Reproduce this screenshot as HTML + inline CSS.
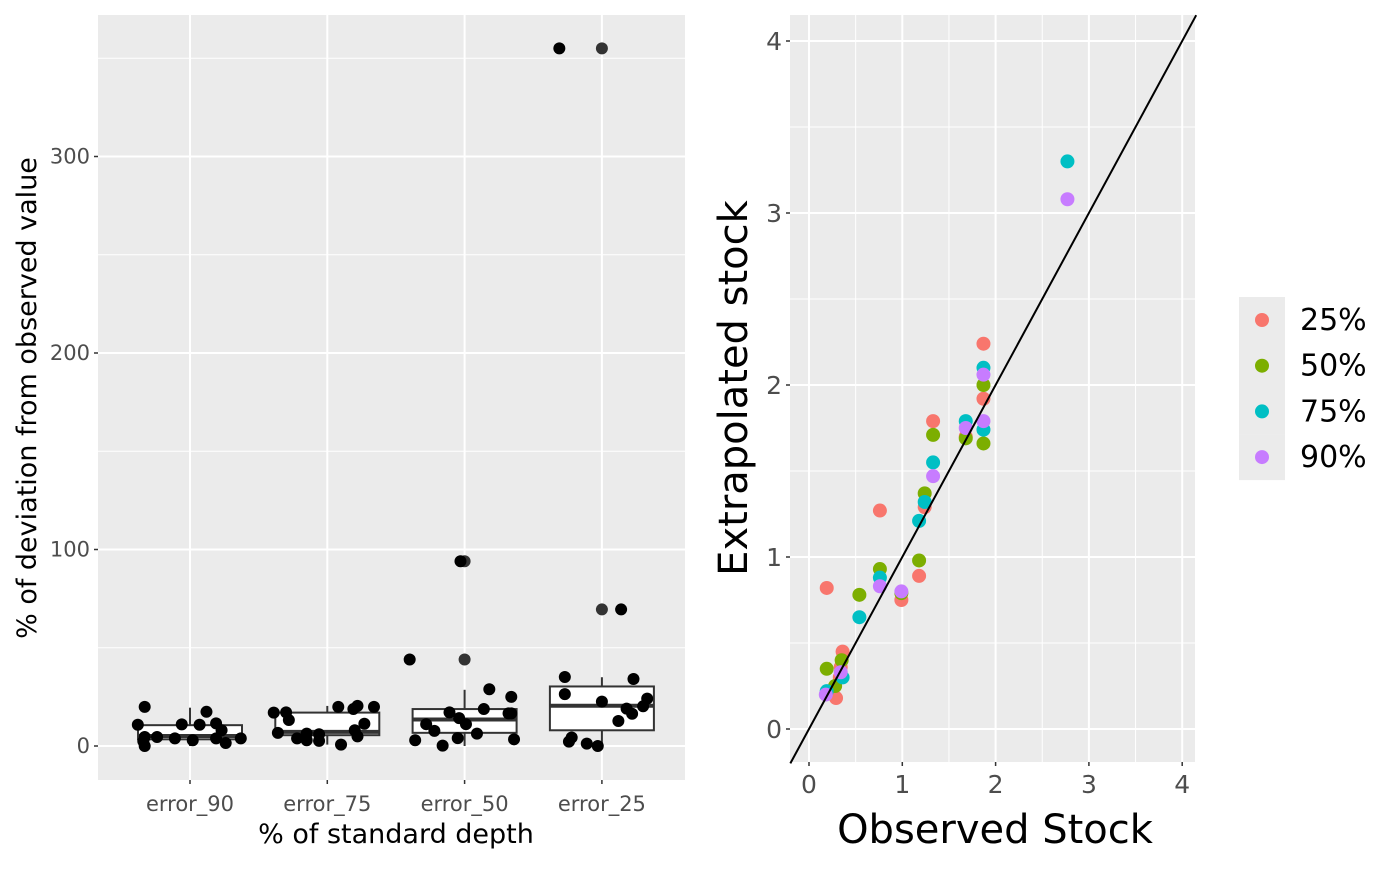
<!DOCTYPE html>
<html><head><meta charset="utf-8"><style>
body{margin:0;background:#fff;font-family:"Liberation Sans","DejaVu Sans",sans-serif}
svg text{font-family:"DejaVu Sans","Liberation Sans",sans-serif}
</style></head><body>
<svg id="c" width="1400" height="865" xmlns="http://www.w3.org/2000/svg"></svg>
<script>
const cats=["error_90","error_75","error_50","error_25"];
const boxQ1=[3.4,5.5,6.7,8];
const boxMed=[5.1,7.2,13.5,20.5];
const boxQ3=[10.6,17,18.8,30.3];
const boxLo=[0,0.7,0,0];
const boxHi=[19.5,20.4,28.6,35];
const outCat=[2,2,3,3];
const outVal=[44,94,69.5,355];
const jitCat=[0,0,0,0,0,0,0,0,0,0,0,0,0,0,0,0,1,1,1,1,1,1,1,1,1,1,1,1,1,1,1,1,1,2,2,2,2,2,2,2,2,2,2,2,2,2,2,2,2,2,3,3,3,3,3,3,3,3,3,3,3,3,3,3,3];
const jitOff=[-0.33,-0.38,-0.33,-0.33,-0.24,-0.11,-0.06,0.02,0.07,0.12,0.19,0.23,0.19,0.26,0.37,-0.34,-0.39,-0.30,-0.28,-0.36,-0.22,-0.15,-0.15,-0.06,-0.06,0.10,0.08,0.19,0.22,0.34,0.27,0.20,0.22,-0.40,-0.36,-0.28,-0.22,-0.16,-0.11,-0.04,-0.05,0.01,0.09,0.14,0.18,0.34,0.32,0.34,0.36,-0.03,-0.27,-0.27,0,0.23,0.33,0.30,0.18,0.22,0.12,-0.22,-0.24,-0.11,-0.03,-0.31,0.14];
const jitVal=[19.9,10.8,4.6,0,4.6,3.9,11,2.9,10.8,17.4,11.5,8,3.9,1.5,3.9,2.4,17,17.1,13.2,6.7,3.9,6.3,2.9,6,2.6,0.7,19.9,18.8,20.4,19.9,11.3,8,4.9,44,2.9,11.1,7.7,0.2,17.1,14.2,4,11.1,6.3,18.8,28.9,25,16.6,16.6,3.4,94,35.1,26.4,22.6,34.1,24.1,20.2,19,16.4,12.7,4.3,2.2,1.2,0,355,69.5];
const leftTicks=[0,100,200,300];
const groups=["25%","50%","75%","90%"];
const gColors=["#F8766D","#7CAE00","#00BFC4","#C77CFF"];
const obs=[[0.19,0.29,0.36,0.34,0.76,0.99,1.18,1.24,1.33,1.68,1.87,1.87,0.33],[0.19,0.28,0.35,0.54,0.76,0.99,1.18,1.24,1.33,1.68,1.87,1.87],[0.19,0.36,0.54,0.76,1.18,1.24,1.33,1.68,1.87,1.87,2.77],[0.18,0.34,0.76,0.99,1.33,1.68,1.87,1.87,2.77]];
const ext=[[0.82,0.18,0.45,0.36,1.27,0.75,0.89,1.29,1.79,1.70,2.24,1.92,0.30],[0.35,0.25,0.40,0.78,0.93,0.79,0.98,1.37,1.71,1.69,2.0,1.66],[0.22,0.30,0.65,0.88,1.21,1.32,1.55,1.79,2.1,1.74,3.3],[0.20,0.33,0.83,0.80,1.47,1.75,2.06,1.79,3.08]];
const rTicks=[0,1,2,3,4];

const S=document.getElementById('c');const NS="http://www.w3.org/2000/svg";
function mk(t,a,p){const e=document.createElementNS(NS,t);for(const k in a)e.setAttribute(k,a[k]);(p||S).appendChild(e);return e;}
// LEFT
const L={x0:98,x1:685,y0:15,y1:780};
const ly=v=>746-v*1.965, lx=i=>190+i*137.3;
let r=mk('rect',{x:L.x0,y:L.y0,width:L.x1-L.x0,height:L.y1-L.y0,fill:'#EBEBEB'});

for(let v=50;v<=350;v+=100){mk('line',{x1:L.x0,x2:L.x1,y1:ly(v),y2:ly(v),stroke:'#fff','stroke-width':1});}
leftTicks.forEach(v=>{mk('line',{x1:L.x0,x2:L.x1,y1:ly(v),y2:ly(v),stroke:'#fff','stroke-width':2});
 mk('line',{x1:L.x0-4,x2:L.x0,y1:ly(v),y2:ly(v),stroke:'#333','stroke-width':1.5});
 const t=mk('text',{x:L.x0-8,y:ly(v)+7,'text-anchor':'end','font-size':21,fill:'#4D4D4D'});t.textContent=v;
 });
cats.forEach((c,i)=>{mk('line',{x1:lx(i),x2:lx(i),y1:L.y0,y2:L.y1,stroke:'#fff','stroke-width':2});
 mk('line',{x1:lx(i),x2:lx(i),y1:L.y1,y2:L.y1+4,stroke:'#333','stroke-width':1.5});
 const t=mk('text',{x:lx(i),y:L.y1+31,'text-anchor':'middle','font-size':21,fill:'#4D4D4D'});t.textContent=c;
 
 const g=mk('g',{});
 mk('line',{x1:lx(i),x2:lx(i),y1:ly(boxHi[i]),y2:ly(boxQ3[i]),stroke:'#333','stroke-width':2},g);
 mk('line',{x1:lx(i),x2:lx(i),y1:ly(boxLo[i]),y2:ly(boxQ1[i]),stroke:'#333','stroke-width':2},g);
 mk('rect',{x:lx(i)-52,y:ly(boxQ3[i]),width:104,height:ly(boxQ1[i])-ly(boxQ3[i]),fill:'#fff',stroke:'#333','stroke-width':2},g);
 mk('line',{x1:lx(i)-52,x2:lx(i)+52,y1:ly(boxMed[i]),y2:ly(boxMed[i]),stroke:'#333','stroke-width':4},g);});
outVal.forEach((v,k)=>{const c=mk('circle',{cx:lx(outCat[k]),cy:ly(v),r:6,fill:'#333'});
 });
jitVal.forEach((v,k)=>{const c=mk('circle',{cx:lx(jitCat[k]+jitOff[k]),cy:ly(v),r:6,fill:'#000'});
 });
let t=mk('text',{x:396,y:843,'text-anchor':'middle','font-size':27,fill:'#000'});t.textContent='% of standard depth';

t=mk('text',{x:0,y:0,'text-anchor':'middle','font-size':27,fill:'#000',transform:'translate(36,398) rotate(-90)'});t.textContent='% of deviation from observed value';

// RIGHT
const R={x0:790,x1:1195,y0:15,y1:762};
const rx=v=>809+v*93.3, ry=v=>729-v*172;
r=mk('rect',{x:R.x0,y:R.y0,width:R.x1-R.x0,height:R.y1-R.y0,fill:'#EBEBEB'});

for(let v=0.5;v<4;v+=1){mk('line',{x1:R.x0,x2:R.x1,y1:ry(v),y2:ry(v),stroke:'#fff','stroke-width':1});mk('line',{x1:rx(v),x2:rx(v),y1:R.y0,y2:R.y1,stroke:'#fff','stroke-width':1});}
rTicks.forEach(v=>{mk('line',{x1:R.x0,x2:R.x1,y1:ry(v),y2:ry(v),stroke:'#fff','stroke-width':2});
 mk('line',{x1:rx(v),x2:rx(v),y1:R.y0,y2:R.y1,stroke:'#fff','stroke-width':2});
 mk('line',{x1:R.x0-4,x2:R.x0,y1:ry(v),y2:ry(v),stroke:'#333','stroke-width':1.5});
 mk('line',{x1:rx(v),x2:rx(v),y1:R.y1,y2:R.y1+4,stroke:'#333','stroke-width':1.5});
 let a=mk('text',{x:R.x0-8,y:ry(v)+9,'text-anchor':'end','font-size':25,fill:'#4D4D4D'});a.textContent=v;
 
 a=mk('text',{x:rx(v),y:R.y1+31,'text-anchor':'middle','font-size':25,fill:'#4D4D4D'});a.textContent=v;
 });
groups.forEach((g,gi)=>{obs[gi].forEach((o,k)=>{const c=mk('circle',{cx:rx(o),cy:ry(ext[gi][k]),r:7,fill:gColors[gi]});
 });});
const idl=mk('line',{x1:rx(-0.2),y1:ry(-0.2),x2:rx(4.15),y2:ry(4.15),stroke:'#000','stroke-width':2});

t=mk('text',{x:995,y:843,'text-anchor':'middle','font-size':40,fill:'#000'});t.textContent='Observed Stock';

t=mk('text',{x:0,y:0,'text-anchor':'middle','font-size':40,fill:'#000',transform:'translate(747,388) rotate(-90)'});t.textContent='Extrapolated stock';

// legend
groups.forEach((g,gi)=>{const y=320+gi*45.7;
 const b=mk('rect',{x:1239,y:y-23,width:46,height:46,fill:'#EBEBEB'});
 const c=mk('circle',{cx:1262,cy:y,r:7,fill:gColors[gi]});
 
 const l=mk('text',{x:1300,y:y+10,'font-size':30,fill:'#000'});l.textContent=g;
 });
</script>
</body></html>
